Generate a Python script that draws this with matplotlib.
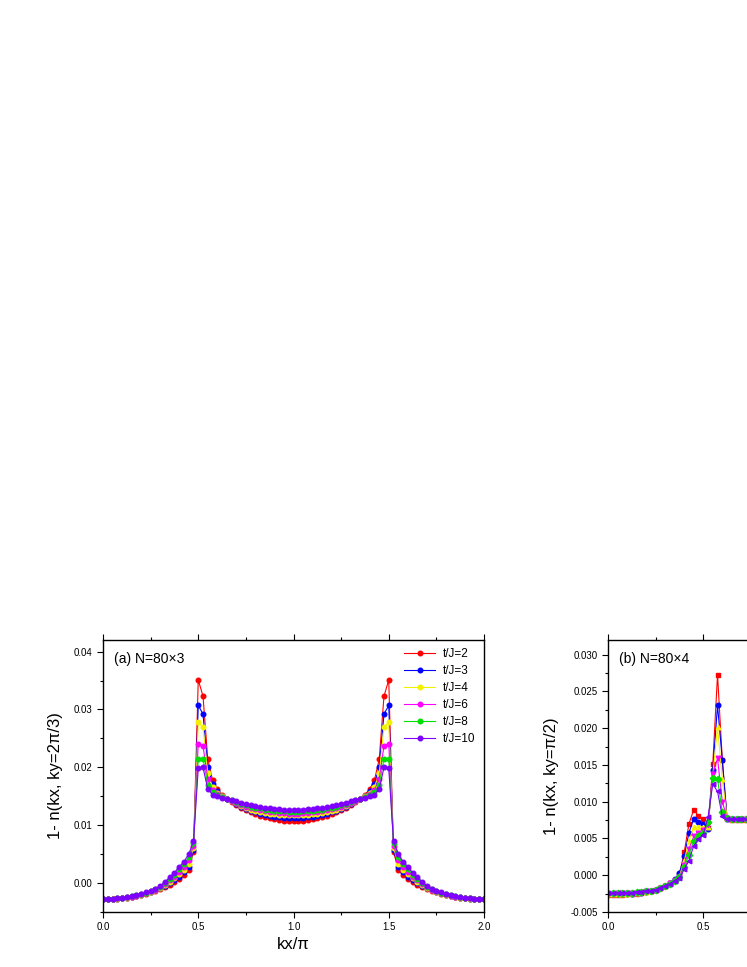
import matplotlib
matplotlib.use("Agg")
import matplotlib.pyplot as plt
import numpy as np
from matplotlib.ticker import MultipleLocator, FormatStrFormatter, FuncFormatter

plt.rcParams['font.family'] = ['Liberation Sans', 'DejaVu Sans']

# kx/pi grid (81 points, step 0.025)
kx = np.arange(81) * 0.025

labels = ['t/J=2', 't/J=3', 't/J=4', 't/J=6', 't/J=8', 't/J=10']
colors = ['#ff0000', '#0000ff', '#f2f200', '#ff00ff', '#00e000', '#8000ff']
markers_b = ['s', 'o', '^', 'v', 'D', '<']

# panel (a) N=80x3, values in units of 1e-4
a_t2 = [-27.6, -27.5, -27.3, -27.0, -26.4, -25.6, -24.4, -22.4, -20.5, -18.4,
        -16.0, -13.2, -10.2, -7.0, -3.2, 1.2, 7.0, 14.0, 23.0, 54.0,
        351, 323, 214, 178, 162, 153, 145, 140, 135, 130,
        126, 122, 119, 116, 114, 112, 110, 109, 108, 108,
        108,
        108, 108, 109, 110, 112, 114, 116, 119, 122, 126,
        130, 135, 140, 145, 153, 162, 178, 214, 323, 351,
        54.0, 23.0, 14.0, 7.0, 1.2, -3.2, -7.0, -10.2, -13.2, -16.0,
        -18.4, -20.5, -22.4, -24.4, -25.6, -26.4, -27.0, -27.3, -27.5, -27.6]
a_t3 = [-27.6, -27.4, -27.2, -26.8, -26.2, -25.3, -24.1, -22.1, -20.2, -18.0,
        -15.5, -12.6, -9.2, -5.2, -0.6, 4.6, 11.2, 18.6, 28.4, 57.6,
        307, 292, 200, 172, 159, 151, 145, 141, 137, 132,
        128, 125, 122, 120, 118, 116, 115, 114, 113, 113,
        113,
        113, 113, 114, 115, 116, 118, 120, 122, 125, 128,
        132, 137, 141, 145, 151, 159, 172, 200, 292, 307,
        57.6, 28.4, 18.6, 11.2, 4.6, -0.6, -5.2, -9.2, -12.6, -15.5,
        -18.0, -20.2, -22.1, -24.1, -25.3, -26.2, -26.8, -27.2, -27.4, -27.6]
a_t4 = [-27.6, -27.4, -27.1, -26.7, -26.0, -25.1, -23.8, -21.8, -19.8, -17.5,
        -15.0, -11.9, -8.1, -3.4, 2.1, 7.9, 15.4, 23.2, 33.8, 61.2,
        278, 269, 190, 166, 156, 150, 145, 141, 138, 134,
        130, 127, 125, 123, 121, 120, 119, 118, 117, 117,
        117,
        117, 117, 118, 119, 120, 121, 123, 125, 127, 130,
        134, 138, 141, 145, 150, 156, 166, 190, 269, 278,
        61.2, 33.8, 23.2, 15.4, 7.9, 2.1, -3.4, -8.1, -11.9, -15.0,
        -17.5, -19.8, -21.8, -23.8, -25.1, -26.0, -26.7, -27.1, -27.4, -27.6]
a_t6 = [-27.6, -27.3, -27.0, -26.5, -25.8, -24.8, -23.4, -21.6, -19.4, -17.0,
        -14.4, -11.3, -7.1, -1.6, 4.8, 11.3, 19.6, 27.8, 39.2, 64.8,
        241, 237, 180, 161, 154, 149, 145, 142, 139, 135,
        132, 130, 128, 126, 124, 123, 122, 121, 121, 120,
        120,
        120, 121, 121, 122, 123, 124, 126, 128, 130, 132,
        135, 139, 142, 145, 149, 154, 161, 180, 237, 241,
        64.8, 39.2, 27.8, 19.6, 11.3, 4.8, -1.6, -7.1, -11.3, -14.4,
        -17.0, -19.4, -21.6, -23.4, -24.8, -25.8, -26.5, -27.0, -27.3, -27.6]
a_t8 = [-27.6, -27.3, -26.9, -26.4, -25.6, -24.6, -23.1, -21.3, -19.1, -16.6,
        -13.9, -10.6, -6.0, 0.2, 7.4, 14.6, 23.8, 32.4, 44.6, 68.4,
        215, 215, 170, 157, 152, 148, 145, 143, 140, 137,
        135, 132, 130, 129, 127, 126, 125, 124, 124, 123,
        123,
        123, 124, 124, 125, 126, 127, 129, 130, 132, 135,
        137, 140, 143, 145, 148, 152, 157, 170, 215, 215,
        68.4, 44.6, 32.4, 23.8, 14.6, 7.4, 0.2, -6.0, -10.6, -13.9,
        -16.6, -19.1, -21.3, -23.1, -24.6, -25.6, -26.4, -26.9, -27.3, -27.6]
a_t10 = [-27.6, -27.2, -26.8, -26.2, -25.4, -24.3, -22.8, -21.0, -18.8, -16.2,
         -13.6, -10.0, -5.0, 2.0, 10.0, 18.0, 28.0, 37.0, 50.0, 72.0,
         198, 200, 162, 153, 150, 147, 145, 143, 141, 139,
         137, 135, 133, 132, 130, 129, 128, 128, 127, 127,
         127,
         127, 127, 128, 128, 129, 130, 132, 133, 135, 137,
         139, 141, 143, 145, 147, 150, 153, 162, 200, 198,
         72.0, 50.0, 37.0, 28.0, 18.0, 10.0, 2.0, -5.0, -10.0, -13.6,
         -16.2, -18.8, -21.0, -22.8, -24.3, -25.4, -26.2, -26.8, -27.2, -27.6]

# panel (b) N=80x4, visible part kx/pi = 0 .. 0.8, units of 1e-4
b_t2 = [-26.6, -26.5, -26.4, -26.2, -26.0, -25.6, -25.0, -24.2, -23.2, -22.0,
        -20.6, -17.5, -14.5, -11.0, -6.0, 1.0, 31.0, 70.0, 89.0, 81.0,
        76.0, 64.0, 151, 273, 157, 76, 75, 75, 75, 75, 75, 75, 75]
b_t3 = [-26.0, -25.9, -25.8, -25.6, -25.4, -25.0, -24.4, -23.7, -22.8, -21.7,
        -20.3, -17.8, -14.5, -10.5, -5.5, 3.0, 26.0, 58.0, 77.0, 72.0,
        70.0, 63.0, 143, 231, 157, 77, 76, 76, 76, 76, 76, 76, 76]
b_t4 = [-25.5, -25.4, -25.3, -25.1, -24.9, -24.5, -24.0, -23.3, -22.4, -21.4,
        -20.0, -17.6, -14.5, -11.0, -6.5, -1.0, 19.0, 47.0, 65.0, 66.0,
        66.0, 65.0, 136, 202, 131, 78, 77, 77, 76, 76, 76, 76, 76]
b_t6 = [-25.0, -24.9, -24.8, -24.6, -24.4, -24.1, -23.6, -22.9, -22.1, -21.1,
        -19.8, -17.4, -14.5, -11.2, -7.0, -2.0, 14.0, 36.0, 53.0, 58.0,
        62.0, 68.0, 138, 159, 100, 78, 77, 77, 77, 76, 76, 76, 76]
b_t8 = [-24.6, -24.5, -24.4, -24.3, -24.1, -23.8, -23.3, -22.7, -21.9, -20.9,
        -19.7, -17.3, -14.5, -11.4, -7.5, -3.0, 11.0, 28.0, 47.0, 53.0,
        57.0, 72.0, 132, 131, 86, 78, 77, 77, 77, 77, 76, 76, 76]
b_t10 = [-24.3, -24.2, -24.1, -24.0, -23.8, -23.5, -23.1, -22.5, -21.7, -20.8,
         -19.6, -17.2, -14.5, -11.6, -8.0, -4.0, 8.0, 20.0, 40.0, 49.0,
         55.0, 79.0, 124, 114, 80, 77, 77, 77, 77, 77, 77, 77, 77]

series_a = [a_t2, a_t3, a_t4, a_t6, a_t8, a_t10]
series_b = [b_t2, b_t3, b_t4, b_t6, b_t8, b_t10]
unit = 1e-4

W, H = 747, 967
fig = plt.figure(figsize=(W / 100, H / 100), dpi=100)
ax_a = fig.add_axes([103 / W, 55 / H, 381 / W, 272 / H])
ax_b = fig.add_axes([608 / W, 55 / H, 381 / W, 272 / H])

for ys, c, lab in zip(series_a, colors, labels):
    ax_a.plot(kx, np.array(ys) * unit, '-', color=c, lw=0.8, marker='o',
              ms=3.3, mec=c, mfc=c, label=lab)

for ys, c, m, lab in zip(series_b, colors, markers_b, labels):
    n = len(ys)
    ax_b.plot(kx[:n], np.array(ys) * unit, '-', color=c, lw=0.8, marker=m,
              ms=3.3, mec=c, mfc=c, label=lab)

ax_a.set_ylim(-0.005, 0.042)
ax_a.yaxis.set_major_locator(MultipleLocator(0.01))
ax_a.yaxis.set_minor_locator(MultipleLocator(0.005))
ax_a.yaxis.set_major_formatter(FormatStrFormatter('%.2f'))
ax_b.set_ylim(-0.005, 0.032)
ax_b.yaxis.set_major_locator(MultipleLocator(0.005))
ax_b.yaxis.set_minor_locator(MultipleLocator(0.0025))
ax_b.yaxis.set_major_formatter(FormatStrFormatter('%.3f'))

for ax in (ax_a, ax_b):
    ax.set_xlim(0, 2)
    ax.xaxis.set_major_locator(MultipleLocator(0.5))
    ax.xaxis.set_minor_locator(MultipleLocator(0.25))
    ax.xaxis.set_major_formatter(FormatStrFormatter('%.1f'))
    ax.tick_params(which='both', direction='out', labelsize=7, top=True,
                   right=False, width=0.8)
    ax.tick_params(which='major', length=4)
    ax.tick_params(which='minor', length=2.5)
    for s in ax.spines.values():
        s.set_linewidth(1.0)

# panel (b) runs past the right edge of the page: only label the visible ticks
ax_b.xaxis.set_major_formatter(
    FuncFormatter(lambda v, p: '%.1f' % v if v < 0.7 else ''))

ax_a.set_xlabel('kx/\u03c0', fontsize=12, labelpad=3)
ax_a.set_ylabel('1- n(kx, ky=2\u03c0/3)', fontsize=12, labelpad=8)
ax_b.set_ylabel('1- n(kx, ky=\u03c0/2)', fontsize=12, labelpad=8)

ax_a.text(0.03, 0.955, '(a) N=80\u00d73', transform=ax_a.transAxes,
          fontsize=10, va='top', ha='left')
ax_b.text(0.03, 0.955, '(b) N=80\u00d74', transform=ax_b.transAxes,
          fontsize=10, va='top', ha='left')

ax_a.legend(loc='upper right', frameon=False, fontsize=8.5, handlelength=2.6,
            handletextpad=0.7, labelspacing=0.42, borderaxespad=0.3)

fig.savefig('out.png', dpi=100)
